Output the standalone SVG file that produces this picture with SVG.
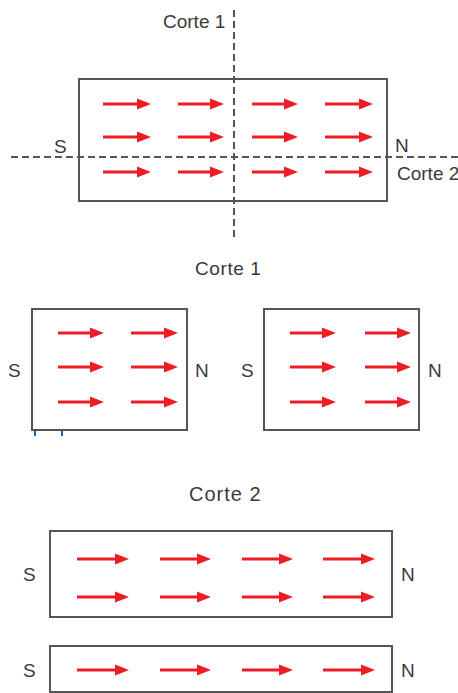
<svg xmlns="http://www.w3.org/2000/svg" width="458" height="693" viewBox="0 0 458 693">
<style>
.mag{fill:#fff;stroke:#555;stroke-width:2}
.lbl{font-family:"Liberation Sans",Arial,sans-serif;font-size:19px;fill:#3a3a3a}
.ttl{letter-spacing:0.6px}
.fld{stroke:#ee1c25;stroke-width:3;fill:none;marker-end:url(#ah)}
.cut{stroke:#555;stroke-width:2;stroke-dasharray:7 4;fill:none}
.tick{stroke:#1f5fa8;stroke-width:2}
</style>
<defs>
<marker id="ah" markerUnits="userSpaceOnUse" markerWidth="16" markerHeight="14" refX="0" refY="6" orient="auto" overflow="visible">
<path d="M-1,0.5 L13,6 L-1,11.5 z" fill="#ee1c25"/>
</marker>
</defs>
<rect width="458" height="693" fill="#fff"/>

<g id="magnet-full">
<rect class="mag" x="79" y="79" width="308" height="122"/>
<g>
<line class="fld" x1="103" y1="104" x2="138" y2="104"/><line class="fld" x1="178" y1="104" x2="211" y2="104"/><line class="fld" x1="252" y1="104" x2="285" y2="104"/><line class="fld" x1="325" y1="104" x2="360" y2="104"/>
<line class="fld" x1="103" y1="137" x2="138" y2="137"/><line class="fld" x1="178" y1="137" x2="211" y2="137"/><line class="fld" x1="252" y1="137" x2="285" y2="137"/><line class="fld" x1="325" y1="137" x2="360" y2="137"/>
<line class="fld" x1="103" y1="172" x2="138" y2="172"/><line class="fld" x1="178" y1="172" x2="211" y2="172"/><line class="fld" x1="252" y1="172" x2="285" y2="172"/><line class="fld" x1="325" y1="172" x2="360" y2="172"/>
</g>
<text class="lbl" x="54" y="153">S</text>
<text class="lbl" x="395" y="152">N</text>
</g>

<g id="cut-lines">
<line class="cut" x1="234" y1="10" x2="234" y2="238"/>
<line class="cut" x1="11" y1="157" x2="458" y2="157"/>
<text class="lbl" x="163" y="28">Corte 1</text>
<text class="lbl" x="397" y="180">Corte 2</text>
</g>

<g id="corte1-title"><text class="lbl ttl" x="195" y="275">Corte 1</text></g>

<g id="corte1-left">
<rect class="mag" x="32" y="309" width="155" height="121"/>
<line class="fld" x1="58" y1="333" x2="91" y2="333"/><line class="fld" x1="131" y1="333" x2="165" y2="333"/>
<line class="fld" x1="58" y1="367" x2="91" y2="367"/><line class="fld" x1="131" y1="367" x2="165" y2="367"/>
<line class="fld" x1="58" y1="402" x2="91" y2="402"/><line class="fld" x1="131" y1="402" x2="165" y2="402"/>
<text class="lbl" x="8" y="377">S</text>
<text class="lbl" x="195" y="377">N</text>
<line class="tick" x1="35" y1="430" x2="35" y2="436"/>
<line class="tick" x1="62" y1="430" x2="62" y2="436"/>
</g>

<g id="corte1-right">
<rect class="mag" x="264" y="309" width="155" height="121"/>
<line class="fld" x1="290" y1="333" x2="323" y2="333"/><line class="fld" x1="365" y1="333" x2="398" y2="333"/>
<line class="fld" x1="290" y1="367" x2="323" y2="367"/><line class="fld" x1="365" y1="367" x2="398" y2="367"/>
<line class="fld" x1="290" y1="402" x2="323" y2="402"/><line class="fld" x1="365" y1="402" x2="398" y2="402"/>
<text class="lbl" x="241" y="377">S</text>
<text class="lbl" x="428" y="377">N</text>
</g>

<g id="corte2-title"><text class="lbl ttl" x="189" y="501" style="font-size:20px;letter-spacing:1px">Corte 2</text></g>

<g id="corte2-upper">
<rect class="mag" x="50" y="531" width="342" height="86"/>
<line class="fld" x1="77" y1="559" x2="116" y2="559"/><line class="fld" x1="160" y1="559" x2="198" y2="559"/><line class="fld" x1="242" y1="559" x2="280" y2="559"/><line class="fld" x1="323" y1="559" x2="362" y2="559"/>
<line class="fld" x1="77" y1="597" x2="116" y2="597"/><line class="fld" x1="160" y1="597" x2="198" y2="597"/><line class="fld" x1="242" y1="597" x2="280" y2="597"/><line class="fld" x1="323" y1="597" x2="362" y2="597"/>
<text class="lbl" x="23" y="581">S</text>
<text class="lbl" x="401" y="581">N</text>
</g>

<g id="corte2-lower">
<rect class="mag" x="50" y="646" width="342" height="46"/>
<line class="fld" x1="77" y1="670" x2="116" y2="670"/><line class="fld" x1="160" y1="670" x2="198" y2="670"/><line class="fld" x1="242" y1="670" x2="280" y2="670"/><line class="fld" x1="323" y1="670" x2="362" y2="670"/>
<text class="lbl" x="23" y="677">S</text>
<text class="lbl" x="401" y="677">N</text>
</g>
</svg>
